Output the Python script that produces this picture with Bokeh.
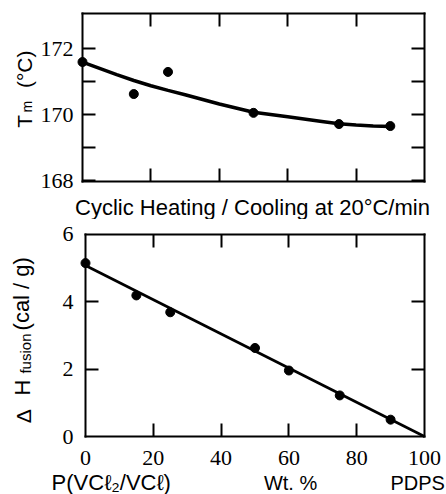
import math
from bokeh.plotting import figure
from bokeh.models import (Range1d, FixedTicker, LinearAxis, Label, LabelSet,
                          ColumnDataSource)
from bokeh.layouts import column
from bokeh.embed import file_html
from bokeh.resources import INLINE

# ---------------- data ----------------
# Top panel: melting temperature vs composition (wt. % PDPS)
tm_x = [0, 15, 25, 50, 75, 90]
tm_y = [171.59, 170.62, 171.29, 170.05, 169.71, 169.65]
# smooth curve
tm_curve_x = [0, 5, 10, 15, 20, 25, 30, 40, 50, 60, 70, 75, 80, 85, 90]
tm_curve_y = [171.59, 171.40, 171.21, 171.03, 170.87, 170.73, 170.60, 170.32,
              170.07, 169.93, 169.79, 169.72, 169.68, 169.65, 169.64]
tm_ticks = [168, 169, 170, 171, 172]
tm_tick_labels = [168, 170, 172]

# Bottom panel: heat of fusion vs composition
dh_x = [0, 15, 25, 50, 60, 75, 90]
dh_y = [5.15, 4.19, 3.69, 2.63, 1.96, 1.22, 0.50]
dh_fit_x = [0, 100]
dh_fit_y = [5.08, 0.0]
x_ticks = [0, 20, 40, 60, 80, 100]
inner_x_ticks = [20, 40, 60, 80]
dh_ticks = [0, 2, 4, 6]
dh_inner_ticks = [2, 4]

FONT = "Liberation Sans"
TICK_FS = "22px"

# plot boxes (data limits)
TM_X = (0, 100)
TM_Y = (167.97, 173.06)
DH_X = (0, 100)
DH_Y = (0, 6)

H1 = 219
H2 = 494 - H1


def box_axis(p, side, ticks, loc, bounds):
    ax = LinearAxis(fixed_location=loc, bounds=bounds)
    ax.ticker = FixedTicker(ticks=ticks)
    ax.major_tick_in = 13
    ax.major_tick_out = 0
    ax.minor_tick_line_color = None
    ax.axis_line_width = 2
    ax.axis_line_color = "black"
    ax.axis_line_cap = "square"
    ax.major_tick_line_width = 2
    ax.major_tick_line_color = "black"
    ax.major_label_text_font_size = "0px"
    ax.major_label_text_color = None
    ax.major_label_standoff = 0
    p.add_layout(ax, side)
    return ax


def base_fig(height, xr, yr):
    p = figure(width=446, height=height, output_backend="svg", toolbar_location=None,
               x_range=xr, y_range=yr, x_axis_type=None, y_axis_type=None,
               min_border=0)
    p.grid.visible = False
    p.outline_line_color = None
    p.background_fill_color = "white"
    p.border_fill_color = "white"
    return p


# rotated texts: "bottom" baseline behaves predictably for rotated labels
lbl_kw = dict(text_font=FONT, text_color="black", angle=math.pi / 2,
              text_align="left", text_baseline="bottom")

# ---------------- top panel ----------------
p1 = base_fig(H1, Range1d(-82 / 3.42, 364 / 3.42),
              Range1d(172 - (H1 - 48) / 33, 172 + 48 / 33))
box_axis(p1, "below", inner_x_ticks, TM_Y[0], TM_X)
box_axis(p1, "above", inner_x_ticks, TM_Y[1], TM_X)
box_axis(p1, "left", tm_ticks, TM_X[0], TM_Y)
box_axis(p1, "right", tm_ticks, TM_X[1], TM_Y)

p1.line(tm_curve_x, tm_curve_y, line_color="black", line_width=3.5)
p1.scatter(tm_x, tm_y, size=9, color="black")

src1 = ColumnDataSource(dict(y=tm_tick_labels, x=[TM_X[0]] * len(tm_tick_labels),
                             t=[str(v) for v in tm_tick_labels]))
p1.add_layout(LabelSet(x="x", y="y", text="t", source=src1, x_offset=-9,
                       text_align="right", text_baseline="middle",
                       text_font=FONT, text_font_size=TICK_FS, text_color="black"))

p1.add_layout(Label(x=-13.6, y=169.6, text="T", text_font_size="21px", **lbl_kw))
p1.add_layout(Label(x=-14.0, y=170.06, text="m", text_font_size="14px", **lbl_kw))
p1.add_layout(Label(x=-13.6, y=170.80, text="(°C)", text_font_size="21px", **lbl_kw))
p1.add_layout(Label(x=49.7, y=167.18, text="Cyclic Heating / Cooling at 20°C/min",
                    text_font=FONT, text_font_size="22px", text_color="black",
                    text_align="center", text_baseline="alphabetic"))

# ---------------- bottom panel ----------------
top2 = 234 - H1
p2 = base_fig(H2, Range1d(-85 / 3.39, 361 / 3.39),
              Range1d(-(H2 - top2 - 202) / 33.667, 6 + top2 / 33.667))
box_axis(p2, "below", inner_x_ticks, DH_Y[0], DH_X)
box_axis(p2, "above", inner_x_ticks, DH_Y[1], DH_X)
box_axis(p2, "left", dh_inner_ticks, DH_X[0], DH_Y)
box_axis(p2, "right", dh_inner_ticks, DH_X[1], DH_Y)

p2.line(dh_fit_x, dh_fit_y, line_color="black", line_width=2.7)
p2.scatter(dh_x, dh_y, size=9, color="black")

src2y = ColumnDataSource(dict(y=dh_ticks, x=[DH_X[0]] * len(dh_ticks),
                              t=[str(v) for v in dh_ticks]))
p2.add_layout(LabelSet(x="x", y="y", text="t", source=src2y, x_offset=-12,
                       text_align="right", text_baseline="middle",
                       text_font=FONT, text_font_size=TICK_FS, text_color="black"))
src2x = ColumnDataSource(dict(x=x_ticks, y=[DH_Y[0]] * len(x_ticks),
                              t=[str(v) for v in x_ticks]))
p2.add_layout(LabelSet(x="x", y="y", text="t", source=src2x, y_offset=-21,
                       text_align="center", text_baseline="middle",
                       text_font=FONT, text_font_size=TICK_FS, text_color="black"))

p2.add_layout(Label(x=-14.9, y=0.39, text="Δ", text_font_size="21px", **lbl_kw))
p2.add_layout(Label(x=-14.9, y=1.22, text="H", text_font_size="22px", **lbl_kw))
p2.add_layout(Label(x=-15.3, y=1.87, text="fusion", text_font_size="15px", **lbl_kw))
p2.add_layout(Label(x=-15.1, y=3.15, text="(cal / g)", text_font_size="22px", **lbl_kw))

bl_kw = dict(text_font=FONT, text_color="black", text_baseline="alphabetic")
p2.add_layout(Label(x=-10.0, y=-1.37, text="P(VCℓ₂/VCℓ)", text_align="left",
                    text_font_size="22px", **bl_kw))
p2.add_layout(Label(x=60.5, y=-1.37, text="Wt. %", text_align="center",
                    text_font_size="20px", **bl_kw))
p2.add_layout(Label(x=106.0, y=-1.37, text="PDPS", text_align="right",
                    text_font_size="20px", **bl_kw))

layout = column(p1, p2, spacing=0)
open("out.html", "w").write(file_html(layout, INLINE))
